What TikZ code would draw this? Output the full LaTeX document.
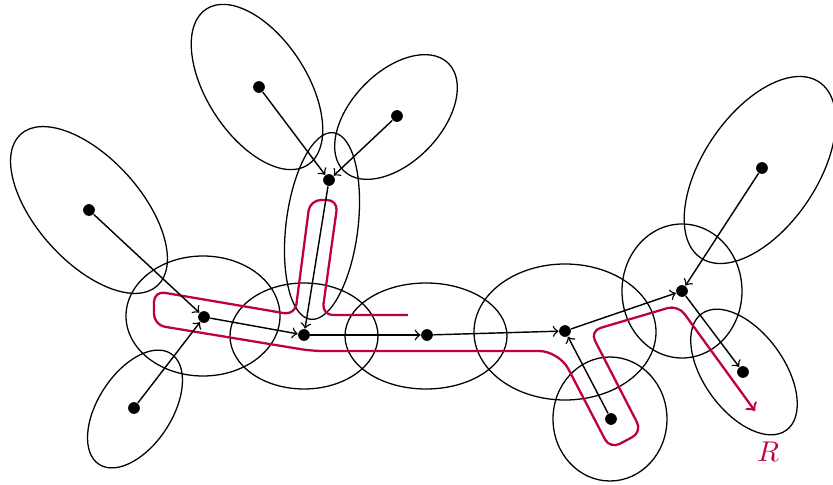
\documentclass[tikz,border=0pt]{standalone}
\begin{document}
\begin{tikzpicture}[x=0.35pt,y=-0.35pt,
  dot/.style={circle,fill=black,inner sep=0pt,minimum size=4.1pt},
  edge/.style={->,line width=0.5pt},
  blob/.style={line width=0.45pt},
  route/.style={draw=purple,line width=0.8pt,rounded corners=3.8pt,->}]
\useasboundingbox (0,0) rectangle (833,485);
% bags
\draw[blob,rotate around={-48:(89,210)}] (89,210) ellipse [x radius=102,y radius=52];
\draw[blob,rotate around={-57:(257,87)}] (257,87) ellipse [x radius=93,y radius=50];
\draw[blob,rotate around={46:(396,117)}] (396,117) ellipse [x radius=75,y radius=45];
\draw[blob,rotate around={83:(322,226)}] (322,226) ellipse [x radius=94,y radius=36];
\draw[blob] (203,316) ellipse [x radius=77,y radius=60];
\draw[blob,rotate around={57:(135,409)}] (135,409) ellipse [x radius=66,y radius=37];
\draw[blob] (304,336) ellipse [x radius=74,y radius=53];
\draw[blob] (426,336) ellipse [x radius=81,y radius=53];
\draw[blob] (565,332) ellipse [x radius=91,y radius=68];
\draw[blob] (610,419) ellipse [x radius=57,y radius=62];
\draw[blob] (682,291) ellipse [x radius=60,y radius=67];
\draw[blob,rotate around={56:(760,170)}] (760,170) ellipse [x radius=106,y radius=57];
\draw[blob,rotate around={-54:(744,372)}] (744,372) ellipse [x radius=72,y radius=40];
% route
\draw[route] (408,315) -- (322,315) -- (338,200) -- (310,200) -- (295,315)
  -- (154,291) -- (154,325) -- (312,351) [rounded corners=7pt] -- (559,351)
  [rounded corners=3.8pt] -- (610,449) -- (642,432) -- (590,331) -- (678,305) -- (755,411);
\node[text=purple] (R) at (768,452) {$R$};
% vertices
\node[dot] (A) at (89,210) {};
\node[dot] (B) at (204,317) {};
\node[dot] (C) at (134,408) {};
\node[dot] (D) at (259,87) {};
\node[dot] (E) at (397,116) {};
\node[dot] (F) at (329,180) {};
\node[dot] (G) at (304,335) {};
\node[dot] (H) at (427,335) {};
\node[dot] (I) at (565,331) {};
\node[dot] (J) at (611,419) {};
\node[dot] (K) at (682,291) {};
\node[dot] (L) at (762,168) {};
\node[dot] (M) at (743,372) {};
% edges
\draw[edge] (A) -- (B);
\draw[edge] (C) -- (B);
\draw[edge] (B) -- (G);
\draw[edge] (D) -- (F);
\draw[edge] (E) -- (F);
\draw[edge] (F) -- (G);
\draw[edge] (G) -- (H);
\draw[edge] (H) -- (I);
\draw[edge] (J) -- (I);
\draw[edge] (I) -- (K);
\draw[edge] (L) -- (K);
\draw[edge] (K) -- (M);
\end{tikzpicture}
\end{document}
